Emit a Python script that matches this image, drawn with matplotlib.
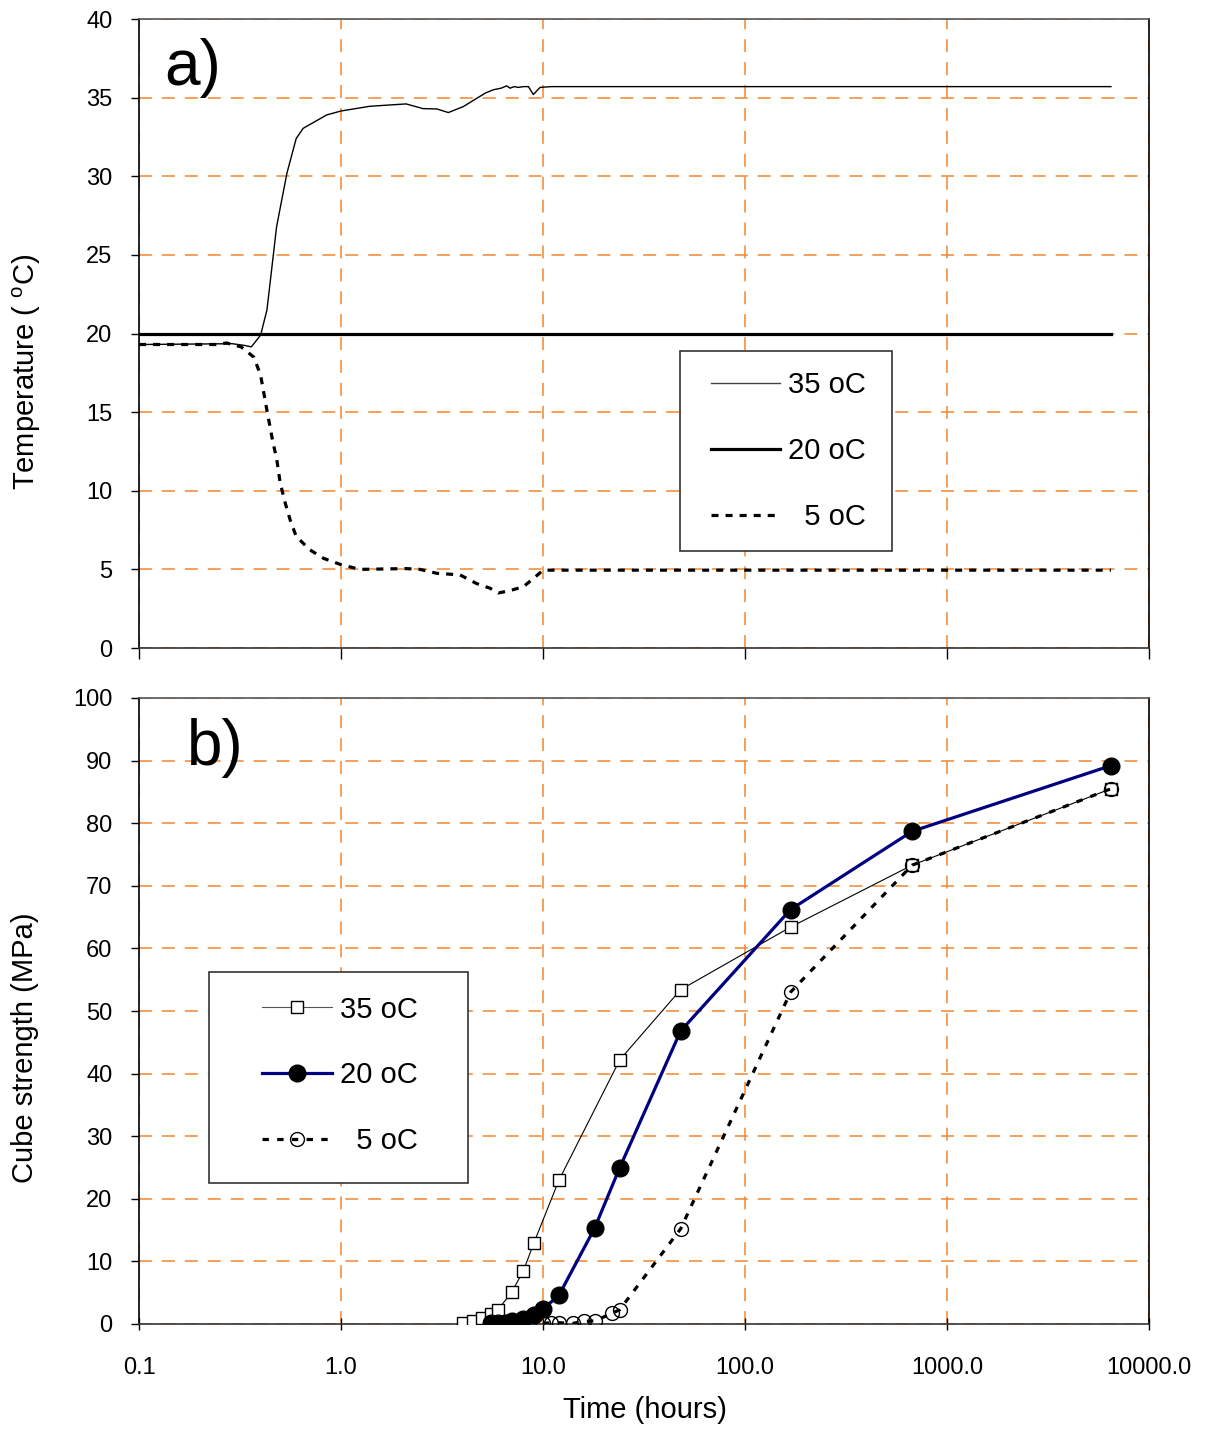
import matplotlib.pyplot as plt
from matplotlib.lines import Line2D
from matplotlib.patches import Rectangle
from matplotlib.ticker import FixedLocator, NullLocator, FixedFormatter

plt.rcParams['font.family'] = ['Liberation Sans', 'DejaVu Sans']

# ---- panel a) temperature histories (hours, degC)
t35 = [0.10, 0.29, 0.33, 0.36, 0.40, 0.43, 0.48, 0.54, 0.60, 0.65, 0.85, 1.0, 1.39,
       2.1, 2.55, 2.98, 3.4, 4.03, 4.69, 5.2, 5.68, 6.2, 6.61, 6.87, 7.2, 7.56, 8.0,
       8.47, 8.96, 9.67, 11.0, 6480]
T35 = [19.3, 19.35, 19.25, 19.15, 19.9, 21.5, 26.8, 30.2, 32.4, 33.05, 33.9, 34.15, 34.45,
       34.6, 34.3, 34.28, 34.05, 34.43, 34.95, 35.3, 35.5, 35.6, 35.75, 35.6, 35.7, 35.65, 35.7,
       35.7, 35.2, 35.65, 35.7, 35.7]
t20 = [0.10, 6480]
T20 = [20.0, 20.0]
t5 = [0.10, 0.25, 0.27, 0.29, 0.32, 0.37, 0.40, 0.43, 0.46, 0.48, 0.50, 0.53, 0.56,
      0.60, 0.70, 0.82, 1.0, 1.24, 2.1, 2.46, 2.98, 3.88, 4.69, 5.47, 6.01, 6.87, 8.0,
      9.12, 10.0, 6480]
T5 = [19.3, 19.3, 19.4, 19.3, 19.15, 18.5, 17.35, 15.1, 13.1, 12.05, 10.5, 9.2, 8.15,
      7.1, 6.25, 5.7, 5.3, 5.0, 5.05, 5.0, 4.75, 4.65, 4.1, 3.8, 3.5, 3.65, 3.9,
      4.5, 4.95, 4.95]

# ---- panel b) cube strength (hours, MPa)
s35_t = [4, 4.5, 5, 5.5, 6, 7, 8, 9, 12, 24, 48, 168, 672, 6480]
s35_v = [0.1, 0.4, 0.9, 1.6, 2.3, 5.1, 8.5, 12.9, 23.0, 42.2, 53.4, 63.4, 73.3, 85.5]
s20_t = [5.5, 6, 6.5, 7, 8, 9, 10, 12, 18, 24, 48, 168, 672, 6480]
s20_v = [0.1, 0.1, 0.2, 0.4, 0.8, 1.5, 2.4, 4.6, 15.3, 25.0, 46.8, 66.2, 78.7, 89.2]
s5_t = [10, 11, 12, 14, 16, 18, 22, 24, 48, 168, 672, 6480]
s5_v = [0.1, 0.2, 0.2, 0.1, 0.4, 0.5, 1.7, 2.3, 15.2, 53.0, 73.3, 85.5]

labels = ['35 oC', '20 oC', '  5 oC']
xticks = [0.1, 1, 10, 100, 1000, 10000]
xticklabels = ['0.1', '1.0', '10.0', '100.0', '1000.0', '10000.0']

grid_color = '#F4862F'
dash = (0, (8.5, 6.5))

fig = plt.figure(figsize=(12.27, 14.30), dpi=100)
ax1 = fig.add_axes([139 / 1227, 1 - 648 / 1430, 1010 / 1227, 629 / 1430])
ax2 = fig.add_axes([139 / 1227, 1 - 1324 / 1430, 1010 / 1227, 626 / 1430])


def style_axis(ax, ymax, ystep, xdir):
    ax.set_xscale('log')
    ax.set_xlim(0.1, 10000)
    ax.set_ylim(0, ymax)
    ax.xaxis.set_major_locator(FixedLocator(xticks))
    ax.xaxis.set_minor_locator(NullLocator())
    ax.set_yticks(range(0, ymax + 1, ystep))
    ax.grid(True, color=grid_color, linestyle=dash, linewidth=1.1, zorder=0)
    ax.set_axisbelow(True)
    ax.tick_params(axis='y', direction='out', length=6, width=1, pad=13, labelsize=17)
    ax.tick_params(axis='x', direction=xdir, length=8, width=1, pad=20, labelsize=17)
    for side in ['left', 'right', 'top', 'bottom']:
        ax.spines[side].set_linewidth(1.2)
    ax.spines['top'].set_color('#555555')
    ax.spines['bottom'].set_color('#333333')


style_axis(ax1, 40, 5, 'out')
style_axis(ax2, 100, 10, 'inout')
ax1.tick_params(axis='x', labelbottom=False)
ax2.xaxis.set_major_formatter(FixedFormatter(xticklabels))

# panel a
ax1.plot(t35, T35, color='black', lw=1.0, zorder=3)
ax1.plot(t20, T20, color='black', lw=2.3, zorder=3)
ax1.plot(t5, T5, color='black', lw=2.3, linestyle=(0, (2.2, 2.2)), zorder=3)
ax1.text(0.025, 0.895, 'a)', transform=ax1.transAxes, fontsize=46, va='baseline')

ax1.add_patch(Rectangle((0.5356, 0.1542), 0.2099, 0.318, transform=ax1.transAxes,
                        facecolor='white', edgecolor='#333333', lw=1.2, zorder=4))
h1 = [Line2D([], [], color='#444444', lw=1.0),
      Line2D([], [], color='black', lw=2.3),
      Line2D([], [], color='black', lw=2.3, linestyle=(0, (2.2, 2.2)))]
leg1 = ax1.legend(h1, labels, loc='center', bbox_to_anchor=(0.643, 0.313), frameon=False,
                  fontsize=21, handlelength=2.35, handletextpad=0.28, labelspacing=1.3)
leg1.set_zorder(5)

# panel b
ax2.plot(s35_t, s35_v, color='black', lw=0.8, marker='s', ms=9, mfc='white',
         mec='black', mew=1.0, zorder=3)
ax2.plot(s20_t, s20_v, color='#000080', lw=2.3, marker='o', ms=12, mfc='black',
         mec='black', zorder=4)
ax2.plot(s5_t, s5_v, color='black', lw=2.3, linestyle=(0, (2.0, 2.6)), marker='o', ms=10,
         mfc='none', mec='black', mew=1.0, zorder=3)
ax2.text(0.0475, 0.893, 'b)', transform=ax2.transAxes, fontsize=46, va='baseline')

ax2.add_patch(Rectangle((0.0693, 0.2252), 0.2564, 0.3371, transform=ax2.transAxes,
                        facecolor='white', edgecolor='#333333', lw=1.2, zorder=5))
h2 = [Line2D([], [], color='#555555', lw=0.8, marker='s', ms=9, mfc='white', mec='black'),
      Line2D([], [], color='#000080', lw=2.3, marker='o', ms=12, mfc='black', mec='black'),
      Line2D([], [], color='black', lw=2.3, linestyle=(0, (2.0, 2.6)), marker='o', ms=10,
             mfc='none', mec='black')]
leg2 = ax2.legend(h2, labels, loc='center', bbox_to_anchor=(0.199, 0.397), frameon=False,
                  fontsize=21, handlelength=2.4, handletextpad=0.28, labelspacing=1.3,
                  numpoints=1)
leg2.set_zorder(6)

fig.text(27 / 1227, 1 - 372 / 1430, 'Temperature ( $^{\\mathregular{o}}$C)', rotation=90,
         ha='center', va='center', fontsize=21)
fig.text(25 / 1227, 1 - 1048 / 1430, 'Cube strength (MPa)', rotation=90,
         ha='center', va='center', fontsize=21)
fig.text(645 / 1227, 1 - 1410 / 1430, 'Time (hours)', ha='center', va='center', fontsize=21)

fig.savefig('out.png', dpi=100)
